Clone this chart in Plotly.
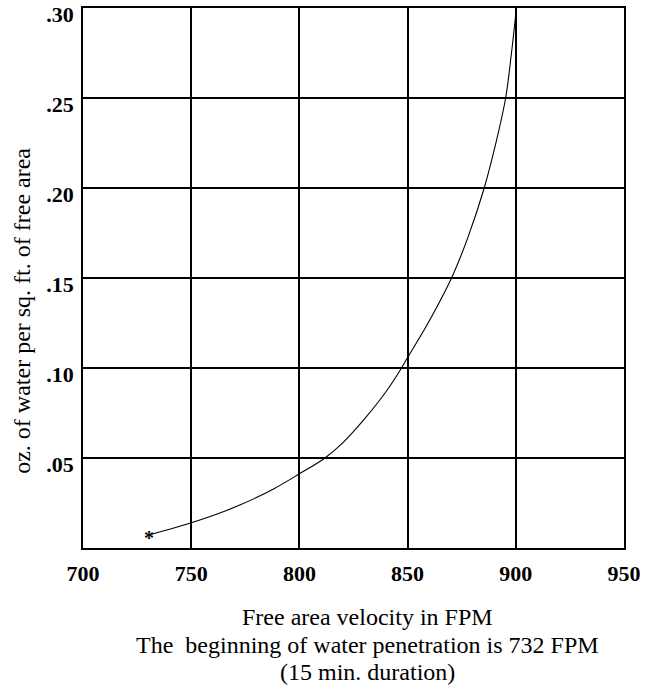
import plotly.graph_objects as go

# Data
velocity_fpm = [730.8, 740, 750, 762, 773, 788.5, 800, 811.8, 820, 830, 840, 847.2, 850, 859, 870.3, 878, 885.4, 890.5, 895.3, 898, 900.3]
water_oz = [0.0074, 0.0104, 0.0140, 0.0189, 0.0241, 0.0331, 0.0412, 0.0500, 0.0584, 0.0716, 0.0868, 0.1000, 0.1058, 0.1240, 0.1500, 0.1730, 0.2000, 0.2235, 0.2500, 0.2750, 0.3000]

x_ticks = [700, 750, 800, 850, 900, 950]
x_tick_labels = ["700", "750", "800", "850", "900", "950"]
y_ticks = [0.05, 0.10, 0.15, 0.20, 0.25, 0.30]
y_tick_labels = [".05", ".10", ".15", ".20", ".25", ".30"]

serif = "Liberation Serif, Times New Roman, serif"

fig = go.Figure()
fig.add_trace(go.Scatter(
    x=velocity_fpm, y=water_oz, mode="lines",
    line=dict(color="black", width=1.1, shape="spline", smoothing=1.0),
    hoverinfo="skip", showlegend=False,
))

# asterisk marking the start of the curve
fig.add_annotation(
    x=velocity_fpm[0], y=water_oz[0], xref="x", yref="y",
    text="<b>*</b>", showarrow=False, font=dict(family=serif, size=20, color="black"),
    xshift=-1, yshift=-3,
)

fig.add_annotation(
    x=-0.112, y=0.44, xref="paper", yref="paper", textangle=-90,
    xanchor="center", yanchor="middle",
    text="oz. of water per sq. ft. of free area", showarrow=False,
    font=dict(family=serif, size=24, color="black"),
)

for txt, ypos in [
    ("Free area velocity in FPM", -0.128),
    ("The  beginning of water penetration is 732 FPM", -0.179),
    ("(15 min. duration)", -0.230),
]:
    fig.add_annotation(
        x=0.525, y=ypos, xref="paper", yref="paper", text=txt, showarrow=False,
        font=dict(family=serif, size=24, color="black"),
        xanchor="center", yanchor="middle",
    )

fig.update_xaxes(
    range=[700, 950], tickvals=x_ticks, ticktext=x_tick_labels,
    showgrid=True, gridcolor="black", gridwidth=1.6,
    showline=True, linecolor="black", linewidth=1.6, mirror=True,
    ticks="", ticklabelstandoff=5, zeroline=False, ticklabeloverflow="allow",
    automargin=False,
    tickfont=dict(family=serif, size=22, color="black", weight="bold"),
)
fig.update_yaxes(
    range=[0, 0.30], tickvals=y_ticks, ticktext=y_tick_labels,
    showgrid=True, gridcolor="black", gridwidth=1.6,
    showline=True, linecolor="black", linewidth=1.6, mirror=True,
    ticks="", ticklabelstandoff=3, ticklabelshift=6, zeroline=False,
    ticklabeloverflow="allow", automargin=False,
    tickfont=dict(family=serif, size=22, color="black", weight="bold"),
)

fig.update_layout(
    width=652, height=692,
    margin=dict(l=83, r=28, t=8, b=144),
    paper_bgcolor="white", plot_bgcolor="white",
)

# remove the browser's default 8px page margin so the figure fills the window
fig.write_html(
    "out.html",
    config={"displayModeBar": False},
    post_script="document.body.style.margin='0';",
)
